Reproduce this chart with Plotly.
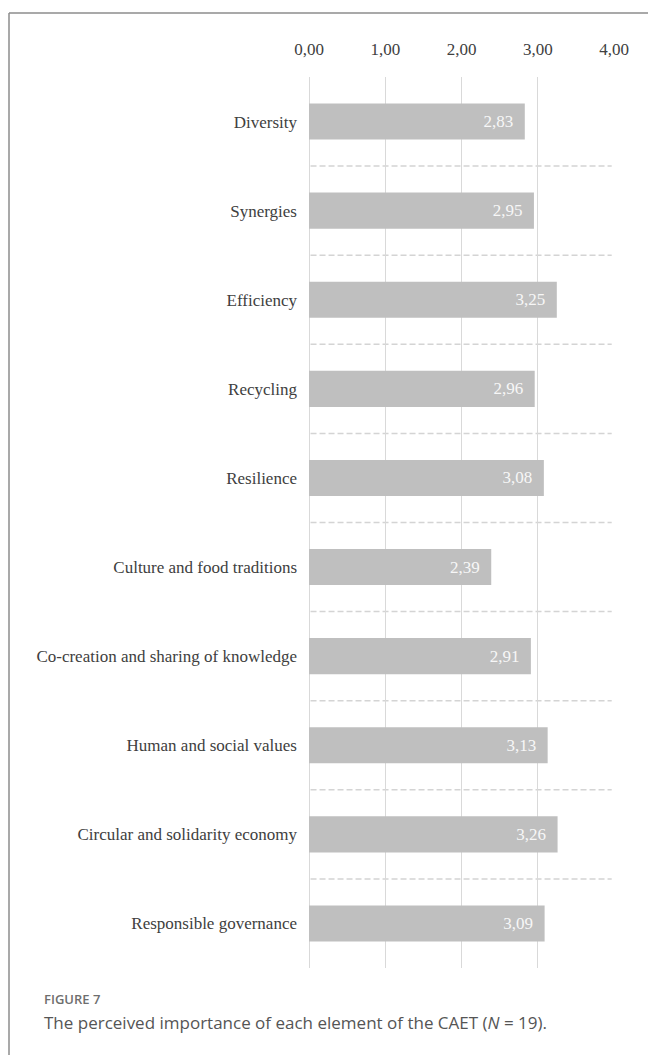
import plotly.graph_objects as go

categories = ["Diversity", "Synergies", "Efficiency", "Recycling", "Resilience",
              "Culture and food traditions", "Co-creation and sharing of knowledge",
              "Human and social values", "Circular and solidarity economy",
              "Responsible governance"]
values = [2.83, 2.95, 3.25, 2.96, 3.08, 2.39, 2.91, 3.13, 3.26, 3.09]
tick_vals = [0, 1, 2, 3, 4]
tick_text = ["0,00", "1,00", "2,00", "3,00", "4,00"]

W, H = 648, 1055
L, R, T, B = 309, 34, 77, 87
PW, PH = W - L - R, H - T - B


def px(x):
    return (x - L) / PW


def py(y):
    return (H - B - y) / PH


fig = go.Figure()
fig.add_trace(go.Bar(
    y=categories, x=values, orientation="h",
    marker=dict(color="#bfbfbf", line=dict(width=0)),
    width=0.405,
    text=[f"{v:.2f}".replace(".", ",") + "\u00a0\u00a0" for v in values],
    textposition="inside", insidetextanchor="end",
    textfont=dict(family="Liberation Serif", size=17, color="#f7f7f7"),
    cliponaxis=False,
))

shapes = []
for i in range(len(categories) - 1):
    shapes.append(dict(type="line", xref="x", yref="y", x0=0.02, x1=3.97,
                       y0=i + 0.5, y1=i + 0.5,
                       line=dict(color="#d4d4d4", width=1.5, dash="6px,3px"), layer="below"))
# frame
shapes.append(dict(type="line", xref="paper", yref="paper",
                   x0=px(9), x1=px(W) + 0.01, y0=py(13), y1=py(13),
                   line=dict(color="#8c8c8c", width=1.5)))
shapes.append(dict(type="line", xref="paper", yref="paper",
                   x0=px(9), x1=px(9), y0=py(13), y1=py(H) - 0.01,
                   line=dict(color="#8c8c8c", width=1.5)))

fig.update_layout(
    width=W, height=H,
    margin=dict(l=L, r=R, t=T, b=B, pad=0),
    paper_bgcolor="white", plot_bgcolor="white",
    showlegend=False,
    shapes=shapes,
    xaxis=dict(side="top", range=[0, 4], tickvals=tick_vals, ticktext=tick_text,
               showgrid=True, gridcolor="#d9d9d9", gridwidth=1.2, zeroline=True,
               zerolinecolor="#d9d9d9", zerolinewidth=1.2,
               showline=False, ticks="", ticklabelstandoff=18,
               tickfont=dict(family="Liberation Serif", size=17, color="#404040"),
               fixedrange=True),
    yaxis=dict(autorange="reversed", showgrid=False, zeroline=False, showline=False,
               ticks="", ticklabelstandoff=11,
               tickfont=dict(family="Liberation Serif", size=17, color="#404040")),
    annotations=[
        dict(text="FIGURE 7", xref="paper", yref="paper",
             x=px(42), y=py(999),
             xanchor="left", yanchor="middle", showarrow=False,
             font=dict(family="Open Sans", size=13, color="#6e6e6e", weight=600)),
        dict(text="The perceived importance of each element of the CAET (<i>N</i> = 19).",
             xref="paper", yref="paper",
             x=px(42), y=py(1022),
             xanchor="left", yanchor="middle", showarrow=False,
             font=dict(family="Open Sans", size=17, color="#555555")),
    ],
)

fig.write_html("out.html")
